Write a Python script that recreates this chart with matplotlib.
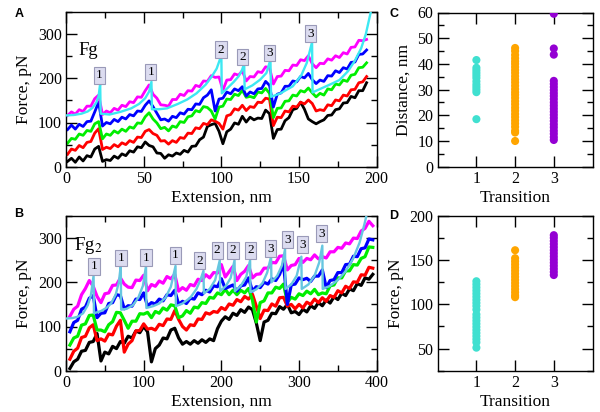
import numpy as np
import matplotlib
matplotlib.use("Agg")
import matplotlib.pyplot as plt
from matplotlib.ticker import MultipleLocator, FixedLocator

plt.rcParams['font.family'] = ['Liberation Serif', 'DejaVu Serif']
plt.rcParams['mathtext.fontset'] = 'stix'

# ---------------- Panel A (Fg) ----------------
ext_a = np.arange(1, 196, 2.5)
fa_black = [12, 19, 10, 22, 13, 25, 22, 40, 46, 12, 16, 14, 24, 19, 29, 25, 36, 33, 45, 43,
            56, 48, 45, 31, 30, 19, 27, 24, 31, 28, 37, 33, 46, 47, 61, 67, 91, 95, 98, 80,
            52, 79, 85, 99, 96, 114, 101, 112, 106, 110, 109, 128, 120, 64, 84, 85, 104, 111, 129, 132,
            146, 130, 108, 102, 97, 102, 106, 116, 117, 129, 131, 144, 145, 159, 156, 172, 172, 190]
fa_red = [28, 40, 37, 48, 43, 55, 57, 76, 86, 39, 44, 41, 50, 45, 54, 50, 59, 55, 67, 66,
          80, 84, 75, 71, 58, 59, 51, 59, 55, 66, 64, 76, 75, 88, 86, 98, 95, 106, 103, 98,
          85, 115, 118, 131, 128, 139, 127, 136, 134, 146, 145, 155, 153, 93, 112, 111, 126, 124, 137, 135,
          146, 142, 151, 143, 126, 129, 127, 140, 138, 151, 149, 162, 160, 174, 175, 190, 192, 204]
fa_green = [53, 64, 62, 74, 71, 82, 80, 97, 102, 63, 74, 71, 81, 76, 85, 80, 90, 87, 99, 98,
            113, 122, 108, 99, 86, 89, 81, 92, 89, 102, 100, 113, 115, 127, 124, 136, 134, 126, 108, 135,
            137, 153, 152, 164, 161, 173, 157, 159, 156, 169, 167, 177, 166, 111, 132, 133, 148, 149, 162, 160,
            172, 169, 178, 167, 158, 166, 162, 176, 174, 187, 185, 196, 193, 207, 209, 224, 225, 235]
fa_blue = [84, 94, 85, 96, 91, 102, 103, 124, 146, 92, 100, 97, 107, 102, 112, 108, 118, 115, 126, 125,
           139, 149, 136, 121, 106, 108, 103, 114, 111, 122, 119, 130, 129, 142, 141, 156, 162, 174, 126, 153,
           155, 169, 165, 176, 172, 181, 160, 169, 165, 176, 177, 193, 184, 135, 164, 167, 182, 182, 194, 192,
           204, 201, 211, 197, 188, 196, 193, 206, 205, 217, 213, 224, 221, 236, 237, 254, 255, 264]
fa_magenta = [116, 124, 119, 129, 125, 137, 137, 154, 162, 118, 126, 122, 132, 128, 139, 136, 147, 145, 158, 157,
              172, 185, 164, 155, 140, 139, 137, 152, 152, 164, 161, 172, 171, 184, 181, 194, 193, 206, 202, 203,
              173, 196, 197, 210, 207, 217, 194, 204, 203, 215, 213, 226, 224, 187, 204, 205, 218, 217, 230, 229,
              242, 240, 251, 233, 224, 234, 233, 244, 241, 251, 247, 258, 255, 270, 271, 286, 285, 288]
fit_a_x = [0, 5, 10, 14, 17, 19.5, 21, 22,
           22.3, 28, 35, 42, 47, 51, 53.5, 55,
           55.3, 60, 65, 72, 78, 84, 90, 94, 97, 100,
           100.3, 104, 108, 111, 113, 114.7,
           115, 120, 125, 129, 131.6,
           132, 138, 146, 151.5, 155, 158.4,
           158.7, 163, 170, 176, 181.5, 186, 190, 193, 196.5]
fit_a_y = [116, 117, 120, 125, 133, 145, 160, 188,
           120, 118, 124, 132, 142, 155, 170, 192,
           130, 130, 132, 142, 152, 166, 186, 205, 222, 252,
           166, 178, 192, 204, 216, 233,
           175, 184, 197, 212, 242,
           158, 166, 182, 207, 235, 282,
           168, 175, 186, 196, 216, 240, 268, 300, 355]
labels_a_x = [21.5, 54.5, 99.7, 113.6, 131.2, 157.4]
labels_a_y = [207, 214, 265, 248, 257, 301]
labels_a_t = ['1', '1', '2', '2', '3', '3']

# ---------------- Panel B (Fg2) ----------------
ext_b = np.arange(5, 396, 5)
fb_black = [5, 20, 26, 44, 46, 64, 66, 84, 22, 42, 38, 55, 50, 66, 62, 78, 74, 90, 86, 100,
            88, 20, 50, 58, 74, 72, 92, 96, 74, 60, 66, 60, 68, 62, 70, 64, 72, 68, 95, 112,
            122, 116, 130, 125, 138, 132, 144, 138, 108, 68, 110, 114, 130, 129, 145, 139, 150, 131, 134, 127,
            139, 133, 147, 141, 154, 147, 160, 153, 167, 161, 175, 170, 185, 181, 197, 193, 210, 207, 218]
fb_red = [26, 44, 51, 75, 78, 97, 104, 68, 72, 67, 83, 81, 101, 114, 42, 60, 68, 90, 91, 106,
          94, 96, 92, 105, 102, 117, 116, 136, 116, 100, 92, 104, 102, 117, 116, 131, 128, 134, 132, 143,
          138, 151, 148, 161, 156, 168, 162, 173, 146, 118, 137, 136, 151, 146, 165, 166, 146, 150, 140, 150,
          142, 155, 150, 162, 154, 165, 157, 170, 166, 181, 176, 191, 186, 201, 200, 217, 216, 234, 232]
fb_green = [58, 74, 78, 103, 106, 125, 126, 92, 92, 88, 104, 111, 132, 131, 114, 96, 112, 112, 129, 128,
            132, 120, 134, 130, 142, 137, 149, 147, 120, 124, 136, 130, 144, 142, 154, 152, 166, 164, 176, 172,
            184, 172, 182, 172, 182, 176, 186, 160, 110, 154, 158, 176, 176, 189, 186, 196, 155, 166, 162, 174,
            170, 180, 174, 184, 172, 176, 174, 192, 194, 210, 210, 226, 226, 240, 239, 254, 258, 280, 279]
fb_blue = [88, 109, 114, 139, 144, 164, 170, 120, 130, 131, 152, 154, 172, 170, 140, 147, 146, 162, 161, 176,
           146, 154, 151, 162, 158, 172, 170, 182, 150, 157, 152, 164, 162, 176, 172, 182, 178, 192, 190, 208,
           186, 190, 194, 180, 192, 194, 210, 180, 190, 188, 200, 196, 208, 204, 218, 242, 150, 194, 196, 210,
           206, 209, 202, 214, 214, 228, 188, 204, 206, 222, 222, 240, 241, 259, 258, 276, 278, 298, 296]
fb_magenta = [123, 139, 146, 172, 186, 204, 191, 168, 154, 174, 176, 193, 194, 210, 196, 189, 188, 205, 204, 216,
              181, 195, 191, 203, 198, 213, 208, 218, 180, 188, 182, 195, 192, 207, 204, 217, 210, 222, 221, 240,
              212, 224, 236, 204, 218, 225, 238, 210, 218, 219, 232, 232, 245, 244, 259, 260, 228, 238, 240, 254,
              245, 254, 251, 262, 253, 258, 255, 269, 269, 279, 277, 289, 287, 300, 299, 316, 322, 338, 328]
fit_b_x = [0, 8, 15, 22, 28, 32, 35.5,
           36, 45, 52, 58, 64, 68, 70.5,
           71, 78, 86, 93, 99, 103,
           103.5, 112, 120, 128, 135, 141,
           141.5, 150, 160, 168, 173, 177,
           177.5, 185, 192, 198,
           198.5, 206, 212, 217,
           217.5, 225, 232, 237,
           237.5, 245, 253, 259, 264,
           264.5, 272, 278, 282,
           282.5, 290, 297, 303,
           303.5, 312, 320, 326, 330,
           330.5, 340, 350, 360, 370, 378, 384, 388]
fit_b_y = [118, 119, 122, 130, 148, 170, 215,
           130, 135, 142, 152, 172, 200, 237,
           138, 140, 148, 165, 192, 237,
           142, 146, 152, 165, 190, 237,
           146, 152, 165, 185, 205, 226,
           175, 185, 205, 250,
           180, 192, 210, 250,
           180, 192, 212, 250,
           178, 184, 198, 222, 258,
           200, 215, 238, 275,
           185, 195, 215, 258,
           185, 195, 215, 245, 283,
           185, 192, 205, 225, 255, 290, 330, 360]
labels_b_x = [36, 70.5, 103, 141, 172, 194.7, 215, 237.7, 263.4, 284.8, 304.6, 329]
labels_b_y = [236, 255, 256, 261, 249, 272, 272, 272, 276, 296, 285, 310]
labels_b_t = ['1', '1', '1', '1', '2', '2', '2', '2', '3', '3', '3', '3']

# ---------------- Panels C and D ----------------
dist_t1 = [41.5, 38.5, 37.5, 36.5, 35.5, 34.5, 33.2, 32, 31, 30, 29, 18.5]
dist_t2 = [46.2, 45, 43.5, 42.2, 41, 40, 38.8, 37.6, 36.5, 35.2, 34, 32.8, 31.5, 30.2, 29, 28, 26.8,
           25.5, 24.3, 23, 21.8, 20.5, 19.3, 18, 16.8, 15.5, 14, 13.3, 10]
dist_t3 = [59.5, 46, 43.6, 33.4, 32.2, 31, 29.8, 28.6, 27.5, 26.3, 25, 23.8, 22.6, 21.4, 20.2, 19,
           17.8, 16.5, 15.3, 14, 12.8, 11.5, 10.4]
force_t1 = [126, 122.5, 119, 115.5, 112, 108.5, 105, 101.5, 98, 94, 88.5, 85, 81.5, 78, 74.5, 71,
            67.5, 64, 60.5, 57, 51]
force_t2 = [161, 152, 148.5, 145, 141.5, 138, 134.5, 131, 127.5, 124, 120.5, 117, 113.5, 110, 108]
force_t3 = [178, 175, 171.5, 168, 164.5, 161, 157.5, 154, 150.5, 147, 143.5, 140, 136.5, 133]
trans_colors = ['#40e0d0', '#ffa500', '#9400d3']

W, H = 600, 412
fig = plt.figure(figsize=(6.0, 4.12), dpi=100)


def frac(l, t, r, b):
    return [l / W, 1 - b / H, (r - l) / W, (b - t) / H]


axA = fig.add_axes(frac(66, 12, 376.7, 166.7))
axB = fig.add_axes(frac(66, 216, 376.7, 370.7))
axC = fig.add_axes(frac(437.7, 12.5, 592.5, 166.7))
axD = fig.add_axes(frac(437.7, 215.7, 592.5, 370.7))

trace_colors = ['#000000', '#ff0000', '#00ee00', '#0000ff', '#ff00ff']


def style(ax):
    for s in ax.spines.values():
        s.set_linewidth(1.0)
    ax.tick_params(which='both', direction='in', top=True, right=True, labelsize=11.5, pad=3)
    ax.tick_params(which='major', length=8, width=1.0)
    ax.tick_params(which='minor', length=4, width=1.0)


def boxlabel(ax, x, y, t):
    ax.text(x, y, t, ha='center', va='center', fontsize=9.5, zorder=6,
            bbox=dict(boxstyle='square,pad=0.18', fc='#dcdcf0', ec='#9a9ab8', lw=0.8))


# Panel A
for c, f in zip(trace_colors, [fa_black, fa_red, fa_green, fa_blue, fa_magenta]):
    axA.plot(ext_a, f, color=c, lw=2.0)
axA.plot(fit_a_x, fit_a_y, color='#3de8f2', lw=1.7, zorder=5)
for x, y, t in zip(labels_a_x, labels_a_y, labels_a_t):
    boxlabel(axA, x, y, t)
axA.text(8, 263, 'Fg', fontsize=13.5, ha='left', va='center')
axA.set_xlim(0, 200)
axA.set_ylim(0, 350)
axA.xaxis.set_major_locator(MultipleLocator(50))
axA.xaxis.set_minor_locator(MultipleLocator(25))
axA.yaxis.set_major_locator(MultipleLocator(100))
axA.yaxis.set_minor_locator(MultipleLocator(50))
axA.set_xlabel('Extension, nm', fontsize=12.5, labelpad=2)
axA.set_ylabel('Force, pN', fontsize=12.5, labelpad=4)
style(axA)

# Panel B
for c, f in zip(trace_colors, [fb_black, fb_red, fb_green, fb_blue, fb_magenta]):
    axB.plot(ext_b, f, color=c, lw=2.3)
axB.plot(fit_b_x, fit_b_y, color='#66c6e0', lw=1.7, zorder=5)
for x, y, t in zip(labels_b_x, labels_b_y, labels_b_t):
    boxlabel(axB, x, y, t)
axB.text(10, 283, r'Fg$_2$', fontsize=13.5, ha='left', va='center')
axB.set_xlim(0, 400)
axB.set_ylim(0, 350)
axB.xaxis.set_major_locator(MultipleLocator(100))
axB.xaxis.set_minor_locator(MultipleLocator(50))
axB.yaxis.set_major_locator(MultipleLocator(100))
axB.yaxis.set_minor_locator(MultipleLocator(50))
axB.set_xlabel('Extension, nm', fontsize=12.5, labelpad=2)
axB.set_ylabel('Force, pN', fontsize=12.5, labelpad=4)
style(axB)

# Panel C
for i, d in enumerate([dist_t1, dist_t2, dist_t3]):
    axC.scatter([i + 1] * len(d), d, s=34, color=trans_colors[i], edgecolors='none', zorder=3)
axC.set_xlim(0, 4)
axC.set_ylim(0, 60)
axC.xaxis.set_major_locator(FixedLocator([1, 2, 3]))
axC.yaxis.set_major_locator(MultipleLocator(10))
axC.yaxis.set_minor_locator(MultipleLocator(5))
axC.set_xlabel('Transition', fontsize=12.5, labelpad=2)
axC.set_ylabel('Distance, nm', fontsize=12.5, labelpad=4)
style(axC)

# Panel D
for i, d in enumerate([force_t1, force_t2, force_t3]):
    axD.scatter([i + 1] * len(d), d, s=34, color=trans_colors[i], edgecolors='none', zorder=3)
axD.set_xlim(0, 4)
axD.set_ylim(25, 200)
axD.xaxis.set_major_locator(FixedLocator([1, 2, 3]))
axD.yaxis.set_major_locator(MultipleLocator(50))
axD.yaxis.set_minor_locator(MultipleLocator(25))
axD.set_xlabel('Transition', fontsize=12.5, labelpad=2)
axD.set_ylabel('Force, pN', fontsize=12.5, labelpad=4)
style(axD)

for txt, (px, py) in zip('ABCD', [(19, 14), (19, 214), (394, 14), (394, 216)]):
    fig.text(px / W, 1 - py / H, txt, fontsize=9, fontweight='bold',
             family='Liberation Sans', ha='center', va='center')

fig.savefig('out.png', dpi=100)
